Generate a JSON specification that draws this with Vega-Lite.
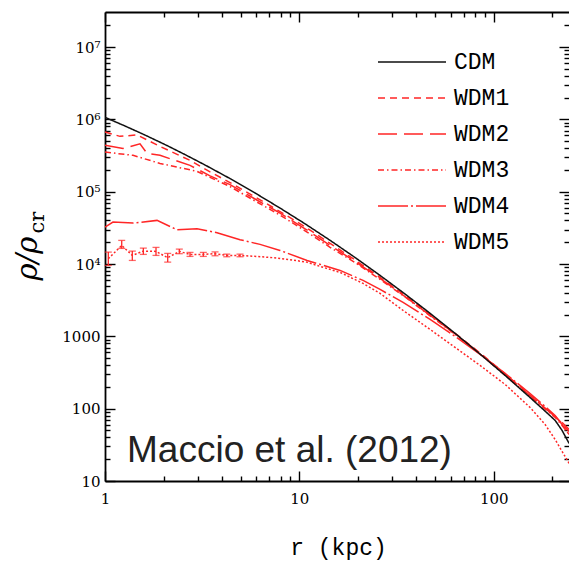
{
  "$schema": "https://vega.github.io/schema/vega-lite/v6.json",
  "width": 464,
  "height": 469,
  "autosize": {"type": "none"},
  "padding": {"left": 105, "top": 12, "right": 0, "bottom": 82},
  "background": "white",
  "config": {
    "view": {"stroke": null},
    "axis": {
      "grid": false,
      "domainColor": "black",
      "tickColor": "black",
      "labelColor": "black",
      "titleColor": "black",
      "domainWidth": 1.8,
      "tickWidth": 1.4,
      "labelFlush": false,
      "labelOverlap": false,
      "labelBound": false
    }
  },
  "datasets": {
    "curves": [
      {"model": "WDM1", "r": 1, "rho": 667000},
      {"model": "WDM1", "r": 1.194, "rho": 582000},
      {"model": "WDM1", "r": 1.461, "rho": 610000},
      {"model": "WDM1", "r": 1.919, "rho": 423000},
      {"model": "WDM1", "r": 2.738, "rho": 271000},
      {"model": "WDM1", "r": 3.471, "rho": 187900},
      {"model": "WDM1", "r": 4.399, "rho": 133600},
      {"model": "WDM1", "r": 5.916, "rho": 84500},
      {"model": "WDM1", "r": 7.956, "rho": 53070},
      {"model": "WDM1", "r": 10.7, "rho": 32700},
      {"model": "WDM1", "r": 14.39, "rho": 19330},
      {"model": "WDM1", "r": 19.35, "rho": 11360},
      {"model": "WDM1", "r": 26.02, "rho": 6525},
      {"model": "WDM1", "r": 34.99, "rho": 3667},
      {"model": "WDM1", "r": 47.07, "rho": 2015},
      {"model": "WDM1", "r": 63.29, "rho": 1100},
      {"model": "WDM1", "r": 85.11, "rho": 587.5},
      {"model": "WDM1", "r": 114.5, "rho": 302},
      {"model": "WDM1", "r": 153.9, "rho": 154.3},
      {"model": "WDM1", "r": 183.9, "rho": 101.6},
      {"model": "WDM1", "r": 207, "rho": 78.3},
      {"model": "WDM1", "r": 224.9, "rho": 62.4},
      {"model": "WDM1", "r": 244.4, "rho": 48.4},

      {"model": "WDM2", "r": 1, "rho": 437000},
      {"model": "WDM2", "r": 1.238, "rho": 397000},
      {"model": "WDM2", "r": 1.514, "rho": 458000},
      {"model": "WDM2", "r": 1.645, "rho": 339000},
      {"model": "WDM2", "r": 1.919, "rho": 318000},
      {"model": "WDM2", "r": 2.738, "rho": 231000},
      {"model": "WDM2", "r": 3.471, "rho": 165400},
      {"model": "WDM2", "r": 4.399, "rho": 125400},
      {"model": "WDM2", "r": 5.916, "rho": 79250},
      {"model": "WDM2", "r": 7.956, "rho": 50580},
      {"model": "WDM2", "r": 10.7, "rho": 30690},
      {"model": "WDM2", "r": 14.39, "rho": 18140},
      {"model": "WDM2", "r": 19.35, "rho": 10830},
      {"model": "WDM2", "r": 26.02, "rho": 6320},
      {"model": "WDM2", "r": 34.99, "rho": 3552},
      {"model": "WDM2", "r": 47.07, "rho": 1952},
      {"model": "WDM2", "r": 63.29, "rho": 1083},
      {"model": "WDM2", "r": 85.11, "rho": 578.2},
      {"model": "WDM2", "r": 114.5, "rho": 297.2},
      {"model": "WDM2", "r": 153.9, "rho": 151.8},
      {"model": "WDM2", "r": 183.9, "rho": 101.6},
      {"model": "WDM2", "r": 207, "rho": 78.3},
      {"model": "WDM2", "r": 224.9, "rho": 64.4},
      {"model": "WDM2", "r": 244.4, "rho": 51.6},

      {"model": "WDM3", "r": 1, "rho": 353000},
      {"model": "WDM3", "r": 1.394, "rho": 318000},
      {"model": "WDM3", "r": 1.919, "rho": 246000},
      {"model": "WDM3", "r": 2.975, "rho": 190900},
      {"model": "WDM3", "r": 4.399, "rho": 117700},
      {"model": "WDM3", "r": 5.916, "rho": 74370},
      {"model": "WDM3", "r": 7.956, "rho": 47460},
      {"model": "WDM3", "r": 10.7, "rho": 28790},
      {"model": "WDM3", "r": 14.39, "rho": 17020},
      {"model": "WDM3", "r": 19.35, "rho": 10490},
      {"model": "WDM3", "r": 26.02, "rho": 6124},
      {"model": "WDM3", "r": 34.99, "rho": 3497},
      {"model": "WDM3", "r": 47.07, "rho": 1920},
      {"model": "WDM3", "r": 63.29, "rho": 1066},
      {"model": "WDM3", "r": 85.11, "rho": 569},
      {"model": "WDM3", "r": 114.5, "rho": 288},
      {"model": "WDM3", "r": 153.9, "rho": 147.1},
      {"model": "WDM3", "r": 183.9, "rho": 98.4},
      {"model": "WDM3", "r": 207, "rho": 75.8},
      {"model": "WDM3", "r": 224.9, "rho": 58.6},
      {"model": "WDM3", "r": 244.4, "rho": 44},

      {"model": "WDM4", "r": 1, "rho": 32400},
      {"model": "WDM4", "r": 1.099, "rho": 38000},
      {"model": "WDM4", "r": 1.394, "rho": 36800},
      {"model": "WDM4", "r": 1.852, "rho": 40100},
      {"model": "WDM4", "r": 2.348, "rho": 29800},
      {"model": "WDM4", "r": 2.975, "rho": 30800},
      {"model": "WDM4", "r": 3.771, "rho": 27100},
      {"model": "WDM4", "r": 4.952, "rho": 21700},
      {"model": "WDM4", "r": 6.277, "rho": 18700},
      {"model": "WDM4", "r": 7.956, "rho": 15400},
      {"model": "WDM4", "r": 10.96, "rho": 11200},
      {"model": "WDM4", "r": 16.2, "rho": 8155},
      {"model": "WDM4", "r": 21.27, "rho": 5930},
      {"model": "WDM4", "r": 26.02, "rho": 4454},
      {"model": "WDM4", "r": 34.18, "rho": 2943},
      {"model": "WDM4", "r": 47.07, "rho": 1713},
      {"model": "WDM4", "r": 63.29, "rho": 997},
      {"model": "WDM4", "r": 85.11, "rho": 562},
      {"model": "WDM4", "r": 114.5, "rho": 306.9},
      {"model": "WDM4", "r": 153.9, "rho": 162.3},
      {"model": "WDM4", "r": 183.9, "rho": 107.3},
      {"model": "WDM4", "r": 207, "rho": 80.5},
      {"model": "WDM4", "r": 224.9, "rho": 60.4},
      {"model": "WDM4", "r": 244.4, "rho": 44},

      {"model": "WDM5", "r": 1.04, "rho": 11840},
      {"model": "WDM5", "r": 1.219, "rho": 18080},
      {"model": "WDM5", "r": 1.382, "rho": 13150},
      {"model": "WDM5", "r": 1.575, "rho": 15080},
      {"model": "WDM5", "r": 1.83, "rho": 14940},
      {"model": "WDM5", "r": 2.102, "rho": 12220},
      {"model": "WDM5", "r": 2.412, "rho": 14940},
      {"model": "WDM5", "r": 2.738, "rho": 13580},
      {"model": "WDM5", "r": 3.206, "rho": 13580},
      {"model": "WDM5", "r": 3.683, "rho": 13890},
      {"model": "WDM5", "r": 4.23, "rho": 13150},
      {"model": "WDM5", "r": 4.952, "rho": 13150},
      {"model": "WDM5", "r": 6.036, "rho": 12740},
      {"model": "WDM5", "r": 7.349, "rho": 12220},
      {"model": "WDM5", "r": 8.956, "rho": 11470},
      {"model": "WDM5", "r": 10.92, "rho": 10620},
      {"model": "WDM5", "r": 12.78, "rho": 9265},
      {"model": "WDM5", "r": 16.2, "rho": 7653},
      {"model": "WDM5", "r": 21.27, "rho": 5392},
      {"model": "WDM5", "r": 26.02, "rho": 3921},
      {"model": "WDM5", "r": 34.18, "rho": 2281},
      {"model": "WDM5", "r": 47.07, "rho": 1246},
      {"model": "WDM5", "r": 63.29, "rho": 702.2},
      {"model": "WDM5", "r": 85.11, "rho": 395.9},
      {"model": "WDM5", "r": 114.5, "rho": 216.1},
      {"model": "WDM5", "r": 153.9, "rho": 103.9},
      {"model": "WDM5", "r": 183.9, "rho": 60.4},
      {"model": "WDM5", "r": 207, "rho": 37.5},
      {"model": "WDM5", "r": 224.9, "rho": 25.6},
      {"model": "WDM5", "r": 244.4, "rho": 17.5},

      {"model": "CDM", "r": 1, "rho": 1066000},
      {"model": "CDM", "r": 1.267, "rho": 810000},
      {"model": "CDM", "r": 1.607, "rho": 606500},
      {"model": "CDM", "r": 2.036, "rho": 448300},
      {"model": "CDM", "r": 2.58, "rho": 326000},
      {"model": "CDM", "r": 3.271, "rho": 234000},
      {"model": "CDM", "r": 4.399, "rho": 151800},
      {"model": "CDM", "r": 5.916, "rho": 95940},
      {"model": "CDM", "r": 7.956, "rho": 59330},
      {"model": "CDM", "r": 10.7, "rho": 35970},
      {"model": "CDM", "r": 14.39, "rho": 21270},
      {"model": "CDM", "r": 19.35, "rho": 12300},
      {"model": "CDM", "r": 26.02, "rho": 6955},
      {"model": "CDM", "r": 34.99, "rho": 3846},
      {"model": "CDM", "r": 47.07, "rho": 2080},
      {"model": "CDM", "r": 63.29, "rho": 1100},
      {"model": "CDM", "r": 85.11, "rho": 569},
      {"model": "CDM", "r": 114.5, "rho": 288},
      {"model": "CDM", "r": 153.9, "rho": 142.4},
      {"model": "CDM", "r": 183.9, "rho": 92.3},
      {"model": "CDM", "r": 207, "rho": 68.9},
      {"model": "CDM", "r": 224.9, "rho": 49.9},
      {"model": "CDM", "r": 244.4, "rho": 33}
    ],
    "errs": [
      {"r": 1.04, "lo": 9563, "hi": 14610},
      {"r": 1.219, "lo": 16440, "hi": 21210},
      {"r": 1.382, "lo": 11210, "hi": 15080},
      {"r": 1.575, "lo": 13580, "hi": 16590},
      {"r": 1.83, "lo": 13150, "hi": 16970},
      {"r": 2.102, "lo": 10620, "hi": 14020},
      {"r": 2.412, "lo": 13890, "hi": 16070},
      {"r": 2.738, "lo": 12740, "hi": 14470},
      {"r": 3.206, "lo": 12740, "hi": 14470},
      {"r": 3.683, "lo": 13000, "hi": 14710},
      {"r": 4.23, "lo": 12600, "hi": 13700},
      {"r": 4.952, "lo": 12600, "hi": 13700}
    ],
    "note": [
      {"label": "Maccio et al. (2012)", "r": 1.298, "rho": 18.2}
    ]
  },
  "layer": [
    {
      "data": {"name": "curves"},
      "mark": {"type": "line", "strokeWidth": 1.5, "clip": true},
      "encoding": {
        "x": {
          "field": "r", "type": "quantitative",
          "scale": {"type": "log", "domain": [1, 244], "nice": false},
          "axis": {
            "orient": "bottom", "values": [1, 10, 100], "tickSize": -10,
            "labelPadding": 20, "labelFont": "DejaVu Serif", "labelFontSize": 15,
            "labelExpr": "datum.value < 5 ? '1' : datum.value < 50 ? '10' : '100'",
            "labelAlign": "center", "labelBaseline": "top",
            "title": "r (kpc)", "titleFont": "Liberation Mono", "titleFontSize": 23,
            "titleFontWeight": "normal", "titleX": 233, "titleY": 73,
            "titleAlign": "center", "titleBaseline": "alphabetic"
          }
        },
        "y": {
          "field": "rho", "type": "quantitative",
          "scale": {"type": "log", "domain": [10, 30500000], "nice": false},
          "axis": {
            "orient": "left", "values": [10, 100, 1000, 10000, 100000, 1000000, 10000000],
            "tickSize": -10, "labelPadding": 15, "labelFont": "DejaVu Serif", "labelFontSize": 15,
            "labelExpr": "datum.value > 5e6 ? '10⁷' : datum.value > 5e5 ? '10⁶' : datum.value > 5e4 ? '10⁵' : datum.value > 5e3 ? '10⁴' : datum.value > 500 ? '1000' : datum.value > 50 ? '100' : '10'",
            "labelAlign": "right", "labelBaseline": "middle",
            "title": "ρ/ρ", "titleFont": "DejaVu Serif", "titleFontStyle": "italic",
            "titleFontSize": 29, "titleFontWeight": "normal", "titleAngle": 270,
            "titleX": -69, "titleY": 268, "titleAlign": "left", "titleBaseline": "alphabetic"
          }
        },
        "color": {
          "field": "model", "type": "nominal",
          "scale": {"domain": ["CDM", "WDM1", "WDM2", "WDM3", "WDM4", "WDM5"],
                    "range": ["#111111", "#ff2626", "#ff2626", "#ff2626", "#ff2626", "#ff2626"]},
          "legend": {
            "orient": "none", "legendX": 272, "legendY": 33, "title": null, "padding": 0,
            "symbolType": "stroke", "symbolSize": 4624, "symbolStrokeWidth": 1.5,
            "clipHeight": 34, "rowPadding": 2, "labelOffset": 7,
            "labelFont": "Liberation Mono", "labelFontSize": 23, "labelColor": "black", "labelLimit": 0
          }
        },
        "strokeDash": {
          "field": "model", "type": "nominal",
          "scale": {"domain": ["CDM", "WDM1", "WDM2", "WDM3", "WDM4", "WDM5"],
                    "range": [[1, 0], [7, 5], [19, 7], [6, 3, 1.5, 3], [30, 3, 2, 3], [2, 2]]},
          "legend": {
            "orient": "none", "legendX": 272, "legendY": 33, "title": null, "padding": 0,
            "symbolType": "stroke", "symbolSize": 4624, "symbolStrokeWidth": 1.5,
            "clipHeight": 34, "rowPadding": 2, "labelOffset": 7,
            "labelFont": "Liberation Mono", "labelFontSize": 23, "labelColor": "black", "labelLimit": 0
          }
        }
      }
    },
    {
      "data": {"name": "curves"},
      "mark": {"type": "point", "opacity": 0},
      "encoding": {
        "x": {
          "field": "r", "type": "quantitative",
          "scale": {"type": "log", "domain": [1, 244], "nice": false},
          "axis": {"orient": "bottom", "values": [2, 3, 4, 5, 6, 7, 8, 9, 20, 30, 40, 50, 60, 70, 80, 90, 200],
                   "tickSize": -5, "labels": false, "domain": false, "title": null}
        },
        "y": {
          "field": "rho", "type": "quantitative",
          "scale": {"type": "log", "domain": [10, 30500000], "nice": false},
          "axis": {
            "orient": "left",
            "values": [20, 30, 40, 50, 60, 70, 80, 90, 200, 300, 400, 500, 600, 700, 800, 900, 2000, 3000, 4000, 5000, 6000, 7000, 8000, 9000, 20000, 30000, 40000, 50000, 60000, 70000, 80000, 90000, 200000, 300000, 400000, 500000, 600000, 700000, 800000, 900000, 2000000, 3000000, 4000000, 5000000, 6000000, 7000000, 8000000, 9000000, 20000000],
            "tickSize": -5, "labels": false, "domain": false,
            "title": "cr", "titleFont": "DejaVu Serif", "titleFontSize": 21, "titleFontWeight": "normal",
            "titleAngle": 270, "titleX": -62, "titleY": 221, "titleAlign": "left", "titleBaseline": "alphabetic"
          }
        }
      }
    },
    {
      "data": {"name": "curves"},
      "mark": {"type": "point", "opacity": 0},
      "encoding": {
        "x": {
          "field": "r", "type": "quantitative",
          "scale": {"type": "log", "domain": [1, 244], "nice": false},
          "axis": {"orient": "top", "values": [1, 10, 100], "tickSize": -10, "labels": false, "domain": true, "title": null}
        },
        "y": {
          "field": "rho", "type": "quantitative",
          "scale": {"type": "log", "domain": [10, 30500000], "nice": false},
          "axis": {"orient": "right", "values": [10, 100, 1000, 10000, 100000, 1000000, 10000000],
                   "tickSize": -10, "labels": false, "domain": false, "title": null}
        }
      }
    },
    {
      "data": {"name": "curves"},
      "mark": {"type": "point", "opacity": 0},
      "encoding": {
        "x": {
          "field": "r", "type": "quantitative",
          "scale": {"type": "log", "domain": [1, 244], "nice": false},
          "axis": {"orient": "top", "values": [2, 3, 4, 5, 6, 7, 8, 9, 20, 30, 40, 50, 60, 70, 80, 90, 200],
                   "tickSize": -5, "labels": false, "domain": false, "title": null}
        },
        "y": {
          "field": "rho", "type": "quantitative",
          "scale": {"type": "log", "domain": [10, 30500000], "nice": false},
          "axis": {
            "orient": "right",
            "values": [20, 30, 40, 50, 60, 70, 80, 90, 200, 300, 400, 500, 600, 700, 800, 900, 2000, 3000, 4000, 5000, 6000, 7000, 8000, 9000, 20000, 30000, 40000, 50000, 60000, 70000, 80000, 90000, 200000, 300000, 400000, 500000, 600000, 700000, 800000, 900000, 2000000, 3000000, 4000000, 5000000, 6000000, 7000000, 8000000, 9000000, 20000000],
            "tickSize": -5, "labels": false, "domain": false, "title": null
          }
        }
      }
    },
    {
      "data": {"name": "errs"},
      "mark": {"type": "errorbar", "ticks": {"size": 7}, "color": "#ff2626", "thickness": 1.3},
      "encoding": {
        "x": {"field": "r", "type": "quantitative",
              "scale": {"type": "log", "domain": [1, 244], "nice": false}, "axis": null},
        "y": {"field": "lo", "type": "quantitative",
              "scale": {"type": "log", "domain": [10, 30500000], "nice": false}, "axis": null},
        "y2": {"field": "hi"}
      }
    },
    {
      "data": {"name": "note"},
      "mark": {"type": "text", "font": "Liberation Sans", "fontSize": 37, "align": "left",
               "baseline": "alphabetic", "color": "#222222"},
      "encoding": {
        "x": {"field": "r", "type": "quantitative",
              "scale": {"type": "log", "domain": [1, 244], "nice": false}, "axis": null},
        "y": {"field": "rho", "type": "quantitative",
              "scale": {"type": "log", "domain": [10, 30500000], "nice": false}, "axis": null},
        "text": {"field": "label"}
      }
    }
  ],
  "resolve": {"axis": {"x": "independent", "y": "independent"}}
}
